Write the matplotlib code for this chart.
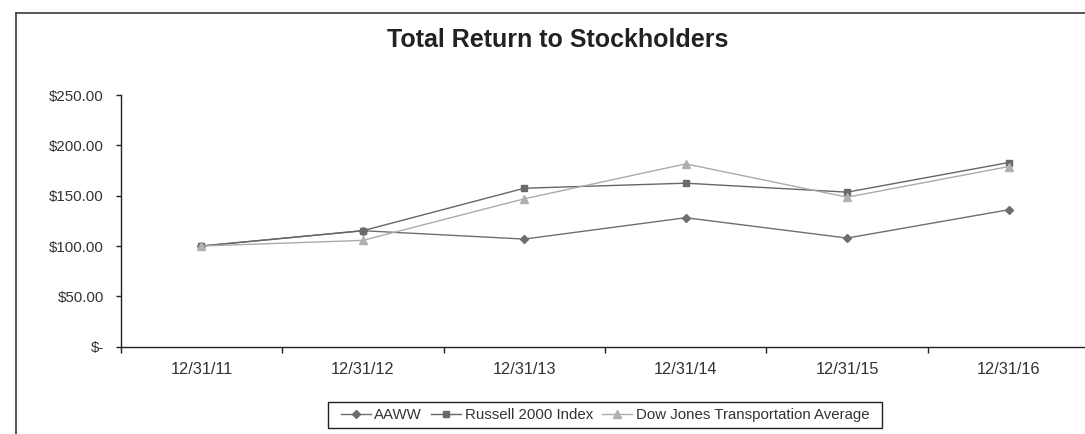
import matplotlib
matplotlib.use("Agg")
import matplotlib.pyplot as plt
from matplotlib.lines import Line2D
from matplotlib.patches import Rectangle
from matplotlib.ticker import FixedLocator

# ---- data ----
dates = ["12/31/11", "12/31/12", "12/31/13", "12/31/14", "12/31/15", "12/31/16"]
aaww = [100.0, 115.2, 106.9, 128.1, 107.9, 136.0]
russell = [100.0, 115.2, 157.4, 162.4, 153.5, 182.9]
dowjones = [100.0, 105.6, 146.9, 181.6, 148.5, 178.9]
y_ticks = [0, 50, 100, 150, 200, 250]
y_labels = ["$-", "$50.00", "$100.00", "$150.00", "$200.00", "$250.00"]
series_names = ["AAWW", "Russell 2000 Index", "Dow Jones Transportation Average"]
title = "Total Return to Stockholders"

plt.rcParams['font.family'] = ['Liberation Sans', 'DejaVu Sans']

W, H = 1085, 434
fig = plt.figure(figsize=(W / 100, H / 100), dpi=100)

def fx(px):
    return px / W

def fy(py):
    return 1 - py / H

# outer chart frame (left and top edges visible)
fig.add_artist(Line2D([fx(16), fx(16)], [fy(13), -0.1], transform=fig.transFigure,
                      color="#3a3a3a", lw=1.2))
fig.add_artist(Line2D([fx(16), 1.1], [fy(13), fy(13)], transform=fig.transFigure,
                      color="#3a3a3a", lw=1.2))

left, right = fx(120.7), fx(1089.3)
bottom, top = fy(346.7), fy(95)
ax = fig.add_axes([left, bottom, right - left, top - bottom])

x = list(range(len(dates)))
l1, = ax.plot(x, aaww, color="#6e6e6e", lw=1.0, marker="D", ms=4.5,
              mfc="#6e6e6e", mec="#6e6e6e", label=series_names[0])
l2, = ax.plot(x, russell, color="#666666", lw=1.0, marker="s", ms=5,
              mfc="#6a6a6a", mec="#6a6a6a", label=series_names[1])
l3, = ax.plot(x, dowjones, color="#ababab", lw=1.0, marker="^", ms=6,
              mfc="#b0b0b0", mec="#b0b0b0", label=series_names[2])

ax.set_xlim(-0.5, len(dates) - 0.5)
ax.set_ylim(0, 250)

for s in ["top", "right"]:
    ax.spines[s].set_visible(False)
for s in ["left", "bottom"]:
    ax.spines[s].set_color("#222222")
    ax.spines[s].set_linewidth(1.0)

ax.set_yticks(y_ticks)
ax.set_yticklabels(y_labels)
ax.tick_params(axis="y", direction="out", length=3.5, width=1.0, color="#222222",
               labelsize=10.8, labelcolor="#333333", pad=8.5)

ax.set_xticks(x)
ax.set_xticklabels(dates)
ax.xaxis.set_minor_locator(FixedLocator([i - 0.5 for i in range(len(dates) + 1)]))
ax.tick_params(axis="x", which="major", length=0, labelsize=11.8,
               labelcolor="#333333", pad=11)
ax.tick_params(axis="x", which="minor", direction="out", length=4, width=1.0,
               color="#222222")

fig.text(fx(557.5), fy(47.3), title, ha="center", va="baseline",
         fontsize=18, fontweight="bold", color="#222222")

leg = fig.legend(handles=[l1, l2, l3], loc="center",
                 bbox_to_anchor=(fx(605), fy(415.3)), ncol=3,
                 fontsize=10.8, frameon=False,
                 handlelength=2.0, handletextpad=0.25, columnspacing=0.6,
                 borderpad=0.0, borderaxespad=0)
for t in leg.get_texts():
    t.set_color("#333333")
fig.add_artist(Rectangle((fx(328), fy(428.3)), fx(882) - fx(328),
                         fy(402.3) - fy(428.3), transform=fig.transFigure,
                         fill=False, edgecolor="#222222", lw=1.0))

fig.savefig("out.png", dpi=100)
